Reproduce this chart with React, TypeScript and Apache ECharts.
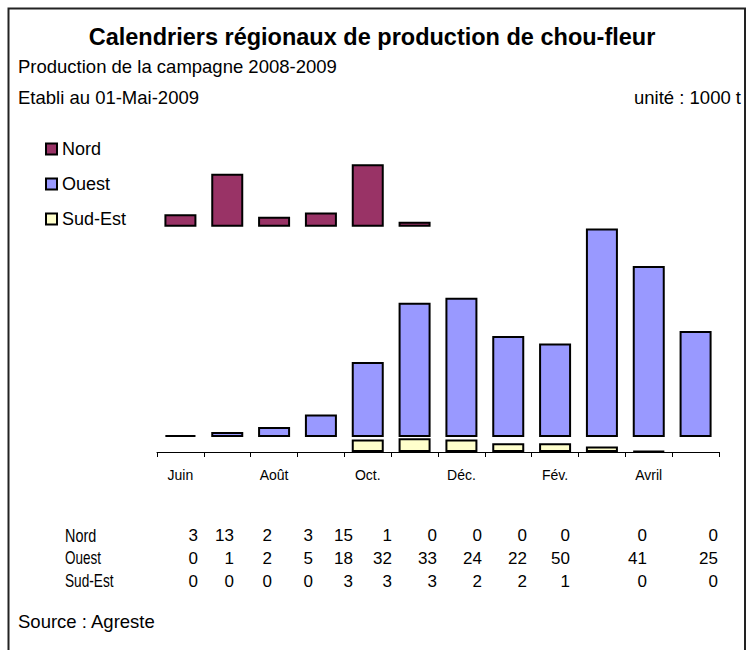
import React, { useEffect, useRef } from "react";
import * as echarts from "echarts";

const MONTHS = ["Juin", "Juil.", "Août", "Sept.", "Oct.", "Nov.", "Déc.", "Janv.", "Fév.", "Mars", "Avril", "Mai"];
const NORD = [3, 12.7, 2.4, 3.4, 15, 1.2, 0, 0, 0, 0, 0, 0];
const OUEST = [0.45, 1.2, 2.4, 5.4, 18, 32.2, 33.4, 24.2, 22.4, 50, 41, 25.4];
const SUD_EST = [0, 0, 0, 0, 3, 3.3, 3, 2.1, 2.1, 1.3, 0.2, 0];
const SERIES_NAMES = ["Nord", "Ouest", "Sud-Est"];

// offsets (in 1000 t) at which the floating groups start
const OUEST_BASE = 3.6;
const NORD_BASE = 54;

// layout
const FONT = "'Liberation Sans', Arial, Helvetica, sans-serif";
const TABLE_RIGHT_X = [198, 234, 272, 313, 353, 392, 437, 482, 527, 570, 647, 718];
const TABLE_ROW_Y = [535, 558, 581];
const COLORS = { Nord: "#993366", Ouest: "#9999FF", "Sud-Est": "#FFFFCC" };

function items(vals: number[]) {
  return vals.map((v) =>
    v === 0 ? { value: 0, itemStyle: { borderWidth: 0, color: "transparent" } } : { value: v }
  );
}

export default function App() {
  const ref = useRef<HTMLDivElement>(null);
  useEffect(() => {
    if (!ref.current) return;
    const chart = echarts.init(ref.current, null, { renderer: "svg" });
    const gap1 = SUD_EST.map((v) => OUEST_BASE - v);
    const gap2 = OUEST.map((v) => NORD_BASE - OUEST_BASE - v);
    const barStyle = (c: string) => ({ color: c, borderColor: "#000", borderWidth: 2 });
    const spacer = (name: string, data: number[]) => ({
      name,
      type: "bar",
      stack: "s",
      barWidth: 32,
      silent: true,
      itemStyle: { color: "transparent", borderWidth: 0 },
      data,
    });

    const tableRows = [NORD, OUEST, SUD_EST];
    const tableTexts: any[] = [];
    tableRows.forEach((row, r) => {
      tableTexts.push({
        type: "text",
        x: 65,
        y: TABLE_ROW_Y[r],
        scaleX: [0.8, 0.75, 0.76][r],
        style: {
          text: SERIES_NAMES[r],
          font: `18px ${FONT}`,
          fill: "#000",
          textAlign: "left",
          textVerticalAlign: "middle",
        },
      });
      row.forEach((v, i) => {
        tableTexts.push({
          type: "text",
          x: TABLE_RIGHT_X[i],
          y: TABLE_ROW_Y[r],
          style: {
            text: String(Math.round(v)),
            font: `17px ${FONT}`,
            fill: "#000",
            textAlign: "right",
            textVerticalAlign: "middle",
          },
        });
      });
    });

    chart.setOption({
      animation: false,
      backgroundColor: "#fff",
      grid: { left: 157, right: 36, top: 160, bottom: 198 },
      legend: {
        data: ["Nord", "Ouest", "Sud-Est"],
        orient: "vertical",
        left: 45,
        top: 140,
        padding: 0,
        itemWidth: 11,
        itemHeight: 11,
        itemGap: 17,
        icon: "rect",
        selectedMode: false,
        itemStyle: { borderColor: "#000", borderWidth: 2 },
        textStyle: { fontSize: 18, fontFamily: FONT, color: "#000", padding: [0, 0, 0, 0] },
      },
      xAxis: {
        type: "category",
        data: MONTHS,
        boundaryGap: true,
        axisLine: { lineStyle: { color: "#000", width: 1 } },
        axisTick: { show: true, length: 5, interval: 0, lineStyle: { color: "#000" } },
        axisLabel: { interval: 1, margin: 16, fontSize: 14, fontFamily: FONT, color: "#000" },
      },
      yAxis: { type: "value", min: 0, max: 70, show: false, splitLine: { show: false } },
      series: [
        { name: "Sud-Est", type: "bar", stack: "s", barWidth: 32, itemStyle: barStyle(COLORS["Sud-Est"]), data: items(SUD_EST) },
        spacer("gap1", gap1),
        { name: "Ouest", type: "bar", stack: "s", barWidth: 32, itemStyle: barStyle(COLORS.Ouest), data: items(OUEST) },
        spacer("gap2", gap2),
        { name: "Nord", type: "bar", stack: "s", barWidth: 32, itemStyle: barStyle(COLORS.Nord), data: items(NORD) },
      ],
      graphic: [
        {
          type: "rect",
          shape: { x: 8.5, y: 8.5, width: 736.5, height: 700 },
          style: { fill: "none", stroke: "#222", lineWidth: 2 },
          silent: true,
        },
        {
          type: "text",
          x: 372,
          y: 37,
          style: {
            text: "Calendriers régionaux de production de chou-fleur",
            font: `bold 23.5px ${FONT}`,
            fill: "#000",
            textAlign: "center",
            textVerticalAlign: "middle",
          },
        },
        {
          type: "text",
          x: 18,
          y: 66,
          style: { text: "Production de la campagne 2008-2009", font: `18.5px ${FONT}`, fill: "#000", textAlign: "left", textVerticalAlign: "middle" },
        },
        {
          type: "text",
          x: 18,
          y: 97,
          style: { text: "Etabli au 01-Mai-2009", font: `18.5px ${FONT}`, fill: "#000", textAlign: "left", textVerticalAlign: "middle" },
        },
        {
          type: "text",
          x: 741,
          y: 97,
          style: { text: "unité : 1000 t", font: `18.5px ${FONT}`, fill: "#000", textAlign: "right", textVerticalAlign: "middle" },
        },
        {
          type: "text",
          x: 18,
          y: 621,
          style: { text: "Source : Agreste", font: `18.5px ${FONT}`, fill: "#000", textAlign: "left", textVerticalAlign: "middle" },
        },
        ...tableTexts,
      ],
    });
    return () => chart.dispose();
  }, []);
  return <div ref={ref} style={{ position: "absolute", left: 0, top: 0, width: 755, height: 650 }} />;
}
